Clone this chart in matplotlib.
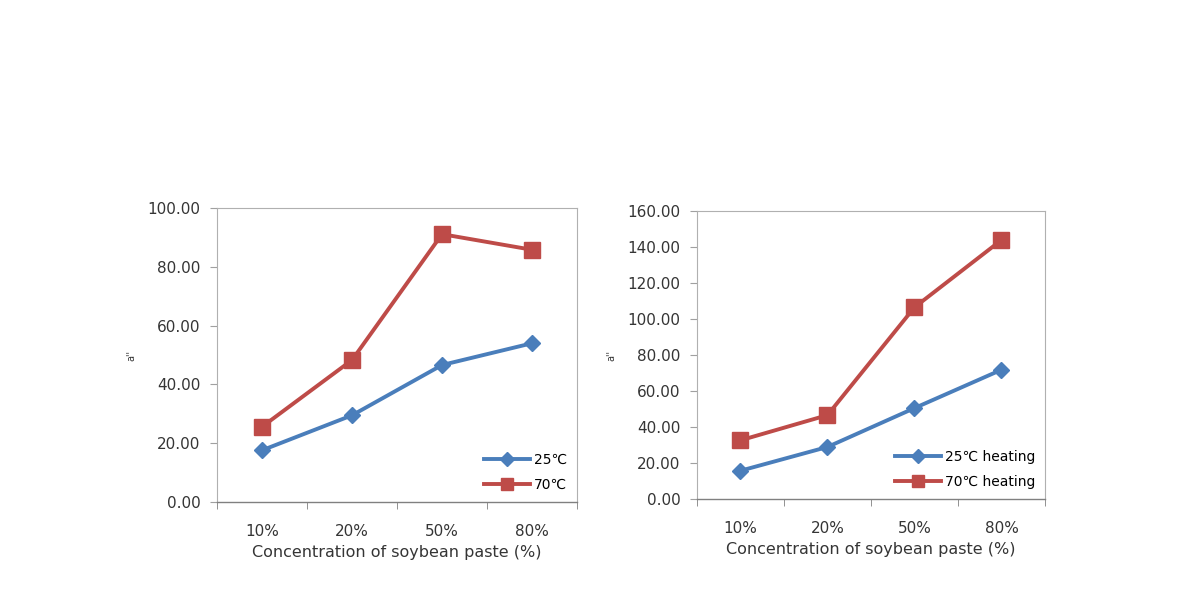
import numpy as np
import matplotlib.pyplot as plt
from matplotlib.ticker import FixedLocator, FormatStrFormatter

plt.rcParams['font.family'] = ['DejaVu Sans', 'Noto Sans CJK KR']

categories = ['10%', '20%', '50%', '80%']

# left panel
left_25 = [17.6, 29.5, 46.6, 54.0]
left_70 = [25.6, 48.3, 91.1, 85.8]
left_labels = ['25\u2103', '70\u2103']

# right panel
right_25 = [15.7, 28.9, 50.5, 71.8]
right_70 = [32.6, 46.6, 106.5, 143.9]
right_labels = ['25\u2103 heating', '70\u2103 heating']

BLUE = '#4a7ebb'
RED = '#be4b48'
GRID = '#a0a0a0'
TXT = '#353535'


def draw_panel(ax, s25, s70, labels, ymax):
    x = np.arange(len(categories))
    ax.plot(x, s25, color=BLUE, lw=2.8, marker='D', markersize=8.5,
            label=labels[0])
    ax.plot(x, s70, color=RED, lw=2.8, marker='s', markersize=11,
            label=labels[1])
    ax.set_xlim(-0.5, len(categories) - 0.5)
    ax.set_ylim(0, ymax)
    ax.set_yticks(np.arange(0, ymax + 1, 20))
    ax.yaxis.set_major_formatter(FormatStrFormatter('%.2f'))
    ax.set_xticks(x)
    ax.set_xticklabels(categories)
    ax.xaxis.set_minor_locator(FixedLocator(np.arange(-0.5, len(categories), 1.0)))
    ax.tick_params(axis='x', which='major', length=0, pad=16,
                   labelsize=11, labelcolor=TXT)
    ax.tick_params(axis='x', which='minor', length=5, direction='out',
                   color='#808080')
    ax.tick_params(axis='y', length=5, direction='out', color=GRID,
                   labelsize=11, labelcolor=TXT, pad=7)
    for side in ['top', 'right', 'left']:
        ax.spines[side].set_color('#b0b0b0')
        ax.spines[side].set_linewidth(0.8)
    ax.spines['bottom'].set_color('#808080')
    ax.spines['bottom'].set_linewidth(1.0)
    ax.set_xlabel('Concentration of soybean paste (%)', fontsize=11.5,
                  color=TXT, labelpad=4)
    ax.set_ylabel("a''", fontsize=7, color=TXT, labelpad=8)
    ax.legend(loc='lower right', frameon=False, markerscale=0.8,
              fontsize=10, handlelength=3.3, handletextpad=0.3,
              labelspacing=0.8, borderaxespad=0.3)


fig = plt.figure(figsize=(11.9, 6.1), dpi=100)
ax1 = fig.add_axes([0.1824, 0.177, 0.3025, 0.482])
ax2 = fig.add_axes([0.5857, 0.182, 0.2924, 0.472])

draw_panel(ax1, left_25, left_70, left_labels, 100)
draw_panel(ax2, right_25, right_70, right_labels, 160)

fig.savefig('out.png', dpi=100)
